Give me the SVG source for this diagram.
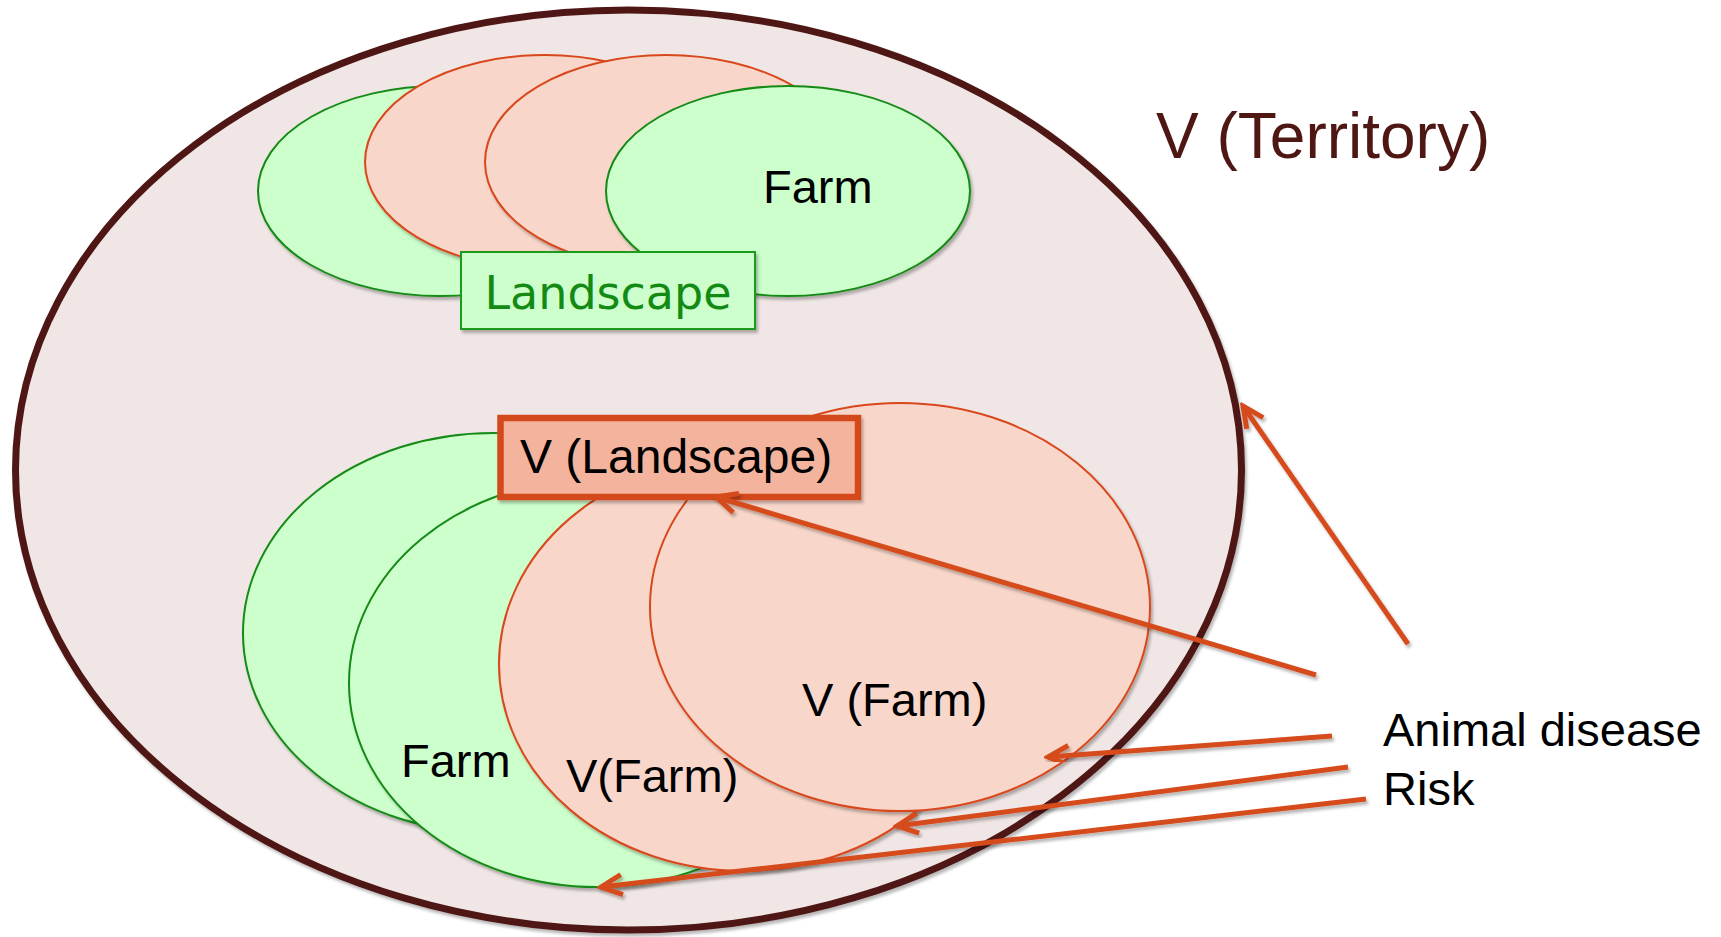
<svg xmlns="http://www.w3.org/2000/svg" width="1721" height="937" viewBox="0 0 1721 937">
<style>
.green{fill:#ccffcc;stroke:#168a16;stroke-width:2}
.pink{fill:#f8d7ca;stroke:#d9471b;stroke-width:2}
.lbl{font-family:"Liberation Sans",Arial,sans-serif;font-size:47px;fill:#000}
.conn{stroke:#d64b1c;stroke-width:5;fill:none;marker-end:url(#arr)}
.sh{filter:url(#shadow)}
</style>
<defs>
<filter id="shadow" x="-10%" y="-10%" width="120%" height="130%">
<feDropShadow dx="2" dy="3" stdDeviation="1.5" flood-color="#000" flood-opacity="0.28"/>
</filter>
<marker id="arr" markerUnits="userSpaceOnUse" viewBox="-26 -14 30 28" refX="0" refY="0" markerWidth="30" markerHeight="28" orient="auto">
<path d="M -21 -10 L 0 0 L -21 10" fill="none" stroke="#d64b1c" stroke-width="5" stroke-linejoin="miter"/>
</marker>
</defs>
<rect width="1721" height="937" fill="#ffffff"/>

<g id="territory">
<ellipse class="sh" cx="628.5" cy="470" rx="613" ry="460" fill="#efe6e5" stroke="#4f1714" stroke-width="7"/>
<text x="1156" y="158" font-family="'Liberation Sans',Arial,sans-serif" font-size="64" fill="#4f1714">V (Territory)</text>
</g>

<g id="landscape-top">
<ellipse class="green sh" cx="440" cy="191" rx="182" ry="105"/>
<ellipse class="pink sh" cx="545" cy="162" rx="180" ry="107"/>
<ellipse class="pink sh" cx="666" cy="162" rx="181" ry="107"/>
<ellipse class="green sh" cx="788" cy="191" rx="182" ry="105"/>
<text class="lbl" x="763" y="203">Farm</text>
</g>

<g id="landscape-box">
<rect class="sh" x="461" y="252" width="294" height="77" fill="#ccffcc" stroke="#1e9a1e" stroke-width="2"/>
<text x="608" y="309" text-anchor="middle" font-family="'DejaVu Sans',Verdana,sans-serif" font-size="46" fill="#138a13">Landscape</text>
</g>

<g id="landscape-bottom">
<ellipse class="green sh" cx="493" cy="633" rx="250" ry="200"/>
<ellipse class="green sh" cx="597" cy="683" rx="248" ry="204"/>
<ellipse class="pink sh" cx="744" cy="664" rx="245" ry="207"/>
<ellipse class="pink sh" cx="900" cy="607" rx="250" ry="204"/>
<text class="lbl" x="401" y="777">Farm</text>
<text class="lbl" x="566" y="792">V(Farm)</text>
<text class="lbl" x="802" y="716">V (Farm)</text>
</g>

<g id="v-landscape">
<rect class="sh" x="500.5" y="418" width="357.5" height="79" fill="#f4b39c" stroke="#d44a1a" stroke-width="6.5"/>
<text class="lbl" x="520" y="473" style="font-size:48px">V (Landscape)</text>
</g>

<g id="risk-label">
<text class="lbl" x="1383" y="746">Animal disease</text>
<text class="lbl" x="1383" y="805">Risk</text>
</g>

<g id="connectors">
<line class="conn sh" x1="1408" y1="644" x2="1243" y2="406"/>
<line class="conn sh" x1="1316" y1="675" x2="716" y2="497"/>
<line class="conn sh" x1="1332" y1="736" x2="1048" y2="757"/>
<line class="conn sh" x1="1348" y1="767" x2="897" y2="826"/>
<line class="conn sh" x1="1366" y1="799" x2="601" y2="887"/>
</g>
</svg>
